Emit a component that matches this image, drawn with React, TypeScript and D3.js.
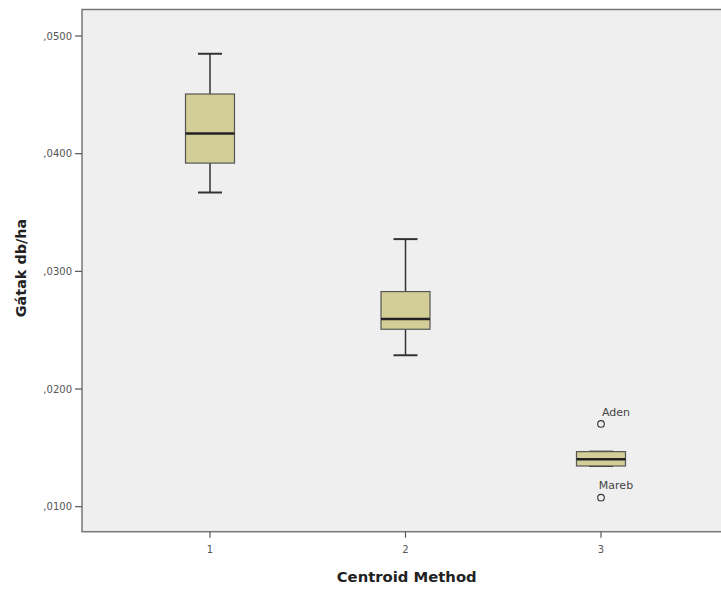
import React from "react";
import * as d3 from "d3";

const categories = ["1", "2", "3"];
const whiskerLow = [0.0367, 0.02287, 0.01346];
const q1 = [0.0392, 0.02508, 0.01346];
const median = [0.04172, 0.02596, 0.01403];
const q3 = [0.04507, 0.02828, 0.01468];
const whiskerHigh = [0.04849, 0.03274, 0.01468];
const outlierCategory = ["3", "3"];
const outlierValue = [0.01703, 0.01077];
const outlierLabel = ["Aden", "Mareb"];
const yTicks = [0.01, 0.02, 0.03, 0.04, 0.05];

export default function App() {
  const W = 721, H = 589;
  const left = 82, top = 9.5, bottom = 531.7;
  const x = d3.scalePoint<string>().domain(categories).range([210, 601]);
  const y = d3.scaleLinear().domain([0.01, 0.05]).range([506.7, 36]);
  const bw = 49;
  const fmt = (v: number) => "," + v.toFixed(4).slice(2);
  const axisCol = "#555";
  const font = "'DejaVu Sans', Verdana, sans-serif";
  return (
    <svg width={W} height={H} style={{ position: "absolute", left: 0, top: 0, background: "#fff" }}>
      <rect x={left} y={top} width={W - left + 20} height={bottom - top} fill="#efefef" stroke="#777" strokeWidth={1.5} />
      {yTicks.map((t) => (
        <g key={t}>
          <line x1={left - 7} x2={left} y1={y(t)} y2={y(t)} stroke={axisCol} strokeWidth={1.2} />
          <text x={left - 10} y={y(t)} dy="0.35em" textAnchor="end" fontSize={10} fill="#555" fontFamily={font}>{fmt(t)}</text>
        </g>
      ))}
      {categories.map((c) => (
        <g key={c}>
          <line x1={x(c)!} x2={x(c)!} y1={bottom} y2={bottom + 6} stroke={axisCol} strokeWidth={1.2} />
          <text x={x(c)!} y={bottom + 21} textAnchor="middle" fontSize={10} fill="#555" fontFamily={font}>{c}</text>
        </g>
      ))}
      {categories.map((c, i) => {
        const cx = x(c)!;
        return (
          <g key={"b" + c}>
            <line x1={cx} x2={cx} y1={y(whiskerHigh[i])} y2={y(q3[i])} stroke="#333" strokeWidth={1.5} />
            <line x1={cx} x2={cx} y1={y(q1[i])} y2={y(whiskerLow[i])} stroke="#333" strokeWidth={1.5} />
            <line x1={cx - 12} x2={cx + 12} y1={y(whiskerHigh[i])} y2={y(whiskerHigh[i])} stroke="#333" strokeWidth={2} />
            <line x1={cx - 12} x2={cx + 12} y1={y(whiskerLow[i])} y2={y(whiskerLow[i])} stroke="#333" strokeWidth={2} />
            <rect x={cx - bw / 2} y={y(q3[i])} width={bw} height={y(q1[i]) - y(q3[i])} fill="#d3ce97" stroke="#555" strokeWidth={1.2} />
            <line x1={cx - bw / 2} x2={cx + bw / 2} y1={y(median[i])} y2={y(median[i])} stroke="#222" strokeWidth={2.5} />
          </g>
        );
      })}
      {outlierValue.map((v, i) => {
        const cx = x(outlierCategory[i])!;
        return (
          <g key={"o" + i}>
            <circle cx={cx} cy={y(v)} r={3.3} fill="none" stroke="#333" strokeWidth={1.1} />
            <text x={cx + 15} y={y(v) - 8.3} textAnchor="middle" fontSize={11} fill="#444" fontFamily={font}>{outlierLabel[i]}</text>
          </g>
        );
      })}
      <text transform={`translate(26,268) rotate(-90)`} textAnchor="middle" fontSize={14.4} fontWeight="bold" fill="#222" fontFamily={font}>Gátak db/ha</text>
      <text x={406.7} y={582} textAnchor="middle" fontSize={14.8} fontWeight="bold" fill="#222" fontFamily={font}>Centroid Method</text>
    </svg>
  );
}
